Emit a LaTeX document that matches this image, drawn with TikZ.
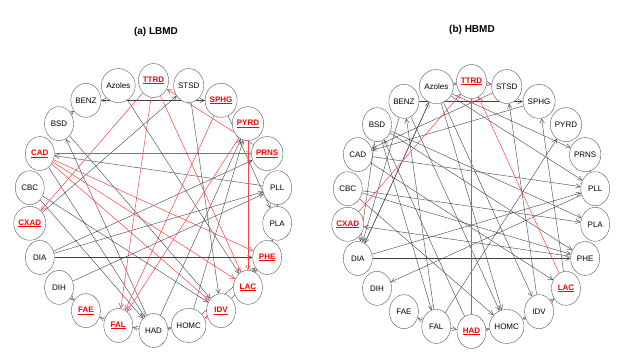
\documentclass[tikz,border=0pt]{standalone}
\usepackage{fontspec}
\setmainfont{Liberation Sans}
\usetikzlibrary{arrows.meta,shapes.geometric}

\pgfdeclarelayer{edges}
\pgfsetlayers{edges,main}
\newcommand{\hitlab}[1]{\textcolor{red}{\bfseries\underline{#1}}}

\begin{document}
\begin{tikzpicture}[x=1pt,y=-1pt,
vert/.style={ellipse,draw=black!65,fill=white,minimum width=29pt,minimum height=34pt,inner sep=0pt,font=\fontsize{8}{9}\selectfont},
lnk/.style={-{Straight Barb[length=4.5pt,width=4.5pt]},line width=0.4pt,draw=black!75},
hotlnk/.style={lnk,line width=0.5pt,draw=red!75},
heading/.style={font=\fontsize{10}{12}\selectfont\bfseries}]
\useasboundingbox (0,0) rectangle (622,354);
\node[heading] (ttla) at (156,32) {(a) LBMD};
\node[heading] (ttlb) at (472,30) {(b) HBMD};
% LBMD circle
\foreach \nm/\hit [count=\k from 0] in {TTRD/1,STSD/0,SPHG/1,PYRD/1,PRNS/1,PLL/0,PLA/0,PHE/1,LAC/1,IDV/1,HOMC/0,HAD/0,FAL/1,FAE/1,DIH/0,DIA/0,CXAD/1,CBC/0,CAD/1,BSD/0,BENZ/0,Azoles/0}
  \node[vert] (a\nm) at ({153.5+125*cos(\k*360/22-90)},{205.5+125*sin(\k*360/22-90)}) {\ifnum\hit=1 \hitlab{\nm}\else\nm\fi};
% HBMD circle
\foreach \nm/\hit [count=\k from 0] in {TTRD/1,STSD/0,SPHG/0,PYRD/0,PRNS/0,PLL/0,PLA/0,PHE/0,LAC/1,IDV/0,HOMC/0,HAD/1,FAL/0,FAE/0,DIH/0,DIA/0,CXAD/1,CBC/0,CAD/0,BSD/0,BENZ/0,Azoles/0}
  \node[vert] (b\nm) at ({471.5+125*cos(\k*360/22-90)},{206.5+125*sin(\k*360/22-90)}) {\ifnum\hit=1 \hitlab{\nm}\else\nm\fi};
\begin{pgfonlayer}{edges}
\foreach \s/\t in {SPHG/BENZ,BENZ/SPHG,BSD/BENZ,PLL/CAD,CXAD/STSD,STSD/IDV,SPHG/PLA,HAD/PYRD,HOMC/PYRD,HOMC/PHE,IDV/PHE,PHE/PLA,PLL/PLA,HAD/FAL,FAL/FAE,DIH/FAE,HAD/HOMC,DIA/PHE,DIA/PLL,DIA/PRNS,DIH/PLL,CBC/IDV,BSD/IDV,CAD/HAD,CBC/HAD,HAD/BSD,Azoles/LAC}
  \draw[lnk] (a\s) -- (a\t);
\foreach \s/\t in {CAD/PRNS,CAD/PHE,CAD/LAC,CAD/IDV,TTRD/CXAD,TTRD/FAL,TTRD/LAC,PRNS/TTRD,SPHG/FAL,PYRD/FAL,PYRD/LAC,IDV/HOMC}
  \draw[hotlnk] (a\s) -- (a\t);
\foreach \s/\t in {Azoles/TTRD,TTRD/STSD,BENZ/SPHG,Azoles/PRNS,Azoles/PLL,Azoles/IDV,Azoles/HOMC,Azoles/DIA,DIA/Azoles,SPHG/CAD,STSD/CAD,BSD/PLA,BSD/PHE,CBC/PLA,CBC/PHE,CBC/HOMC,BSD/DIA,BENZ/DIA,BENZ/HOMC,CAD/LAC,CAD/PLL,PHE/CXAD,DIA/PHE,DIA/PLL,PLL/DIH,FAL/BENZ,FAL/PYRD,BSD/FAL,HAD/BSD,IDV/STSD,LAC/SPHG,IDV/LAC,IDV/HOMC,FAL/FAE,FAL/HAD,HAD/HOMC,PRNS/PLL}
  \draw[lnk] (b\s) -- (b\t);
\foreach \s/\t in {CXAD/TTRD,HAD/TTRD,LAC/TTRD}
  \draw[hotlnk] (b\s) -- (b\t);
\end{pgfonlayer}
\end{tikzpicture}
\end{document}
